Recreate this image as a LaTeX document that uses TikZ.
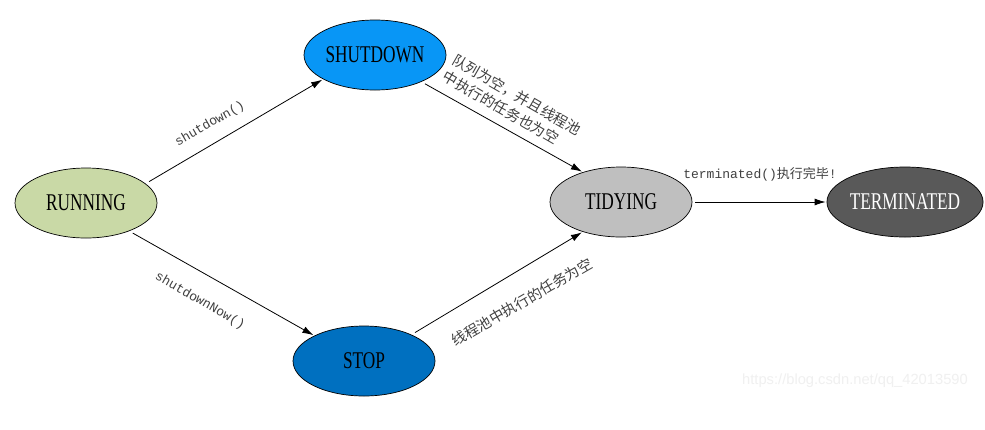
\documentclass[tikz,border=0pt]{standalone}
\usepackage{fontspec}
\setmainfont{Liberation Serif}
\newfontfamily\nodefont[FakeStretch=0.72]{Liberation Serif}
\newfontfamily\cjk{Noto Sans CJK SC}
\newfontfamily\monofont{Liberation Mono}
\newfontfamily\wmfont{Liberation Sans}
\usetikzlibrary{shapes.geometric,arrows.meta}
\definecolor{runC}{HTML}{C9D9A6}
\definecolor{shutC}{HTML}{0896F6}
\definecolor{stopC}{HTML}{0070C0}
\definecolor{tidyC}{HTML}{BFBFBF}
\definecolor{termC}{HTML}{595959}
\definecolor{lblC}{HTML}{404040}
\tikzset{
  state/.style={ellipse, draw=black, line width=0.7pt, minimum width=142pt, minimum height=70pt, inner sep=0pt,
    font=\nodefont\fontsize{24}{28}\selectfont},
  conn/.style={draw=black, line width=0.8pt, -{Latex[length=11pt,width=7pt]}, shorten <=4pt, shorten >=1pt},
  monolbl/.style={text=lblC, font=\monofont\fontsize{13}{15}\selectfont, inner sep=0pt},
  cjklbl/.style={text=lblC, font=\cjk\fontsize{14.5}{19}\selectfont, inner sep=0pt},
}
\begin{document}
\begin{tikzpicture}[x=1pt,y=-1pt]
\useasboundingbox (0,0) rectangle (985,429);
\fill[white] (0,0) rectangle (985,429);
\node[state, fill=runC] (run) at (86,203) {RUNNING};
\node[state, fill=shutC] (shut) at (375,55) {SHUTDOWN};
\node[state, fill=stopC] (stop) at (364,361) {STOP};
\node[state, fill=tidyC] (tidy) at (621,202) {TIDYING};
\node[state, fill=termC, text=white] (term) at (905,202) {TERMINATED};
\draw[conn] (run.18) -- (shut.205);
\draw[conn] (run.-33) -- (stop.153);
\draw[conn] (shut.-30) -- (tidy.142);
\draw[conn] (stop.29) -- (tidy.218);
\draw[conn, shorten <=3pt] (tidy.east) -- (term.west);
\node[monolbl, rotate=30] (l1) at (210,124) {shutdown()};
\node[monolbl, rotate=-30] (l2) at (200,301) {shutdownNow()};
\node[cjklbl, rotate=-30, align=left] (l3) at (512,103) {队列为空，并且线程池\\中执行的任务也为空};
\node[cjklbl, rotate=30] (l4) at (522,302) {线程池中执行的任务为空};
\node[monolbl] (l5) at (760,174) {terminated()\cjk 执行完毕\monofont !};
\node[text=gray!12, font=\wmfont\fontsize{14.7}{16}\selectfont, inner sep=0pt] (wm) at (855,381) {https://blog.csdn.net/qq\_42013590};
\end{tikzpicture}
\end{document}
